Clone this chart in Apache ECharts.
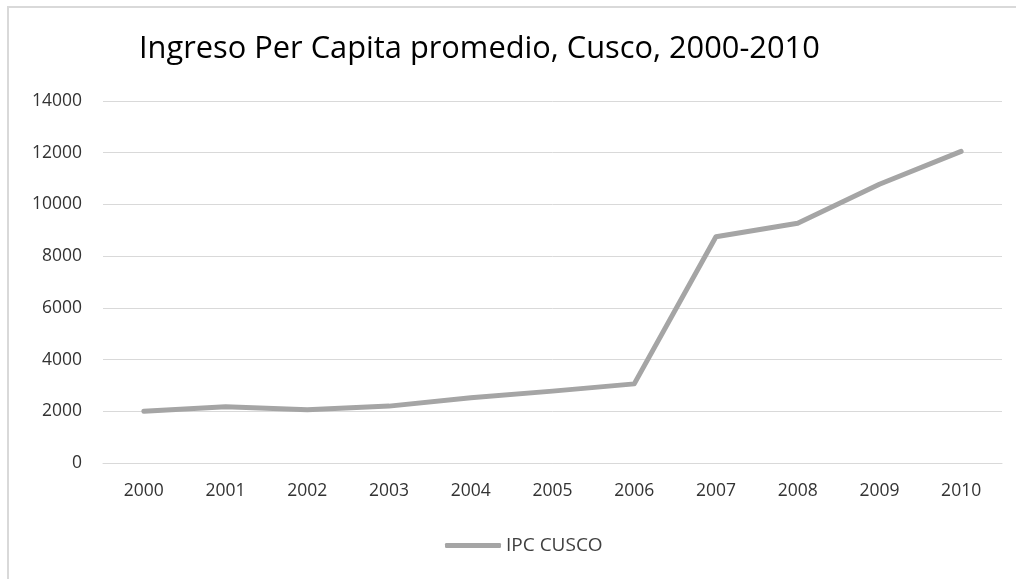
<!DOCTYPE html>
<html>
<head>
<meta charset="utf-8">
<script src="https://cdn.jsdelivr.net/npm/echarts@6/dist/echarts.min.js"></script>
<style>
html,body{margin:0;padding:0;background:#fff;}
#chart{width:1016px;height:579px;}
</style>
</head>
<body>
<div id="chart"></div>
<script>
const titleText = "Ingreso Per Capita promedio, Cusco, 2000-2010";
const categories = ["2000","2001","2002","2003","2004","2005","2006","2007","2008","2009","2010"];
const seriesName = "IPC CUSCO";
const ipcValues = [2000, 2180, 2060, 2200, 2520, 2780, 3060, 8750, 9270, 10780, 12050];
const yTicks = {min: 0, max: 14000, interval: 2000};

const chart = echarts.init(document.getElementById('chart'), null, {renderer: 'canvas'});
const font = "'Open Sans', 'Noto Sans', sans-serif";
chart.setOption({
  backgroundColor: '#ffffff',
  animation: false,
  graphic: [{
    type: 'rect',
    shape: {x: 8, y: 7, width: 1100, height: 700},
    style: {fill: 'none', stroke: '#d9d9d9', lineWidth: 2},
    silent: true, z: -1
  }],
  title: {
    text: titleText,
    left: 134, top: 29,
    textStyle: {fontFamily: font, fontSize: 30.8, fontWeight: 'normal', color: '#000000'}
  },
  grid: {left: 103, right: 14, top: 101, bottom: 116, containLabel: false},
  legend: {
    data: [seriesName],
    bottom: 19, left: 440,
    itemWidth: 56, itemHeight: 5, itemGap: 4,
    icon: 'roundRect',
    textStyle: {fontFamily: font, fontSize: 19, color: '#404040'}
  },
  xAxis: {
    type: 'category',
    data: categories,
    boundaryGap: true,
    axisLine: {show: true, lineStyle: {color: '#d9d9d9', width: 1}},
    axisTick: {show: false},
    axisLabel: {fontFamily: font, fontSize: 17.5, color: '#333333', margin: 19}
  },
  yAxis: {
    type: 'value',
    min: yTicks.min, max: yTicks.max, interval: yTicks.interval,
    axisLine: {show: false},
    axisTick: {show: false},
    splitLine: {lineStyle: {color: '#d9d9d9', width: 1}},
    axisLabel: {fontFamily: font, fontSize: 17.5, color: '#333333', margin: 21,
      formatter: function (v) { return String(v); }}
  },
  series: [{
    name: seriesName,
    type: 'line',
    data: ipcValues,
    symbol: 'none',
    smooth: false,
    lineStyle: {color: '#a5a5a5', width: 5, cap: 'round', join: 'round'},
    itemStyle: {color: '#a5a5a5'}
  }]
});
</script>
</body>
</html>
